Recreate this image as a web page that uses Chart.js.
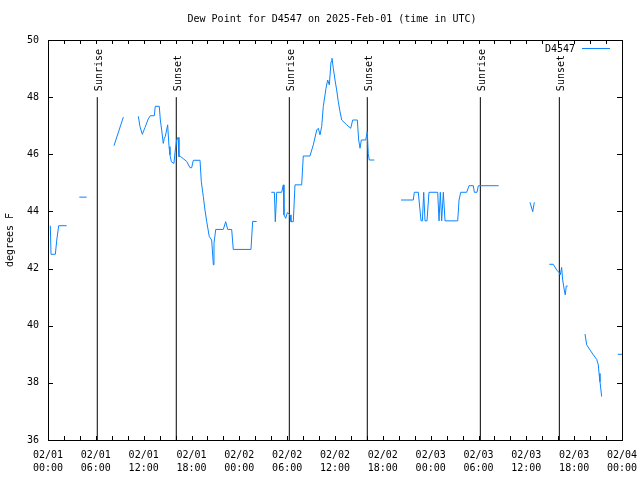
<!DOCTYPE html>
<html>
<head>
<meta charset="utf-8">
<script src="https://cdn.jsdelivr.net/npm/chart.js@4"></script>
<style>
  body { margin: 0; background: #fff; }
</style>
</head>
<body>
<canvas id="chartDewPoint" width="640" height="480"></canvas>
<script>
// hours since 2025-02-01 00:00 UTC, null value = gap in the record
const hours = [
  0.29, 0.38, 0.92, 1.10, 1.34, 2.34, 3.0,
  3.93, 4.85, 6.5,
  8.28, 9.45, 10.4,
  11.33, 11.54, 11.83, 12.17, 12.58, 12.83, 13.33, 13.46, 13.96, 14.09, 14.26, 14.46,
  14.59, 14.72, 15.01, 15.18, 15.30, 15.47, 15.80, 15.93, 16.14, 16.31, 16.43, 16.64,
  17.40, 17.81, 18.02, 18.23, 19.07, 19.23, 19.48, 19.69, 19.91, 20.23, 20.53, 20.74,
  20.82, 21.04, 21.99, 22.29, 22.54, 23.04, 23.24, 25.46, 25.67, 26.18, 27.0,
  28.01, 28.40, 28.51, 28.69, 29.31, 29.52, 29.60, 29.82, 30.02, 30.36, 30.48, 30.77,
  30.98, 31.82, 32.02, 32.86, 33.28, 33.71, 33.91, 34.12, 34.33, 34.53, 34.87, 35.08,
  35.29, 35.50, 35.62, 35.79, 36.00, 36.21, 36.41, 36.63, 36.84, 37.47, 37.97, 38.22,
  38.80, 38.97, 39.14, 39.30, 39.85, 40.05, 40.17, 40.30, 40.93, 42.5,
  44.28, 45.82, 45.95, 46.45, 46.79, 46.96, 47.13, 47.29, 47.54, 47.79, 48.88, 49.05,
  49.21, 49.38, 49.59, 49.80, 51.39, 51.56, 51.77, 52.52, 52.81, 53.35, 53.48, 53.81,
  53.98, 56.53, 58.0,
  60.46, 60.80, 61.00, 62.0,
  62.88, 63.38, 63.81, 64.10, 64.26, 64.43, 64.56, 64.76, 64.88, 65.01, 65.19, 66.0,
  67.36, 67.57, 67.99, 68.40, 68.83, 69.03, 69.12, 69.24, 69.45, 70.5,
  71.46, 72.0
];
const dewPoint = [
  43.5, 42.5, 42.5, 43.0, 43.5, 43.5, null,
  44.5, 44.5, null,
  46.3, 47.3, null,
  47.33, 46.97, 46.70, 46.94, 47.24, 47.35, 47.35, 47.68, 47.68, 47.20, 46.85, 46.38,
  46.56, 46.63, 47.03, 46.27, 45.98, 45.74, 45.68, 46.07, 46.50, 46.59, 45.92, 45.92,
  45.75, 45.53, 45.53, 45.79, 45.79, 45.04, 44.52, 44.05, 43.64, 43.12, 43.00, 42.13,
  42.88, 43.37, 43.37, 43.64, 43.37, 43.37, 42.67, 42.67, 43.65, 43.65, null,
  44.67, 44.67, 43.64, 44.67, 44.67, 44.93, 43.88, 43.76, 43.96, 43.88, 43.64, 43.64,
  44.93, 44.93, 45.94, 45.94, 46.33, 46.85, 46.91, 46.68, 46.97, 47.67, 48.31, 48.60,
  48.43, 49.24, 49.36, 49.01, 48.60, 48.25, 47.84, 47.49, 47.20, 47.03, 46.91, 47.20,
  47.20, 46.50, 46.21, 46.50, 46.50, 46.79, 46.03, 45.80, 45.80, null,
  44.40, 44.40, 44.67, 44.67, 43.67, 43.67, 44.67, 43.67, 43.67, 44.67, 44.67, 43.67,
  44.67, 43.67, 44.67, 43.67, 43.67, 44.40, 44.67, 44.67, 44.90, 44.90, 44.67, 44.67,
  44.90, 44.90, null,
  44.32, 43.99, 44.32, null,
  42.15, 42.15, 41.95, 41.86, 41.78, 42.04, 41.60, 41.25, 41.08, 41.39, 41.39, null,
  39.71, 39.33, 39.15, 38.98, 38.82, 38.63, 38.33, 38.04, 37.52, null,
  39.0, 39.0
];

const sunrise = [6.18, 30.27, 54.23];
const sunset = [16.09, 40.05, 64.14];
const sunLineTop = 48;

const dayLabels = ["02/01", "02/02", "02/03", "02/04"];
const timeLabels = ["00:00", "06:00", "12:00", "18:00"];

const title = "Dew Point for D4547 on 2025-Feb-01 (time in UTC)";
const mono = "'DejaVu Sans Mono', 'Liberation Mono', monospace";
const lineColor = "#0a84ff";

// sunrise/sunset markers as one dataset with gaps
const sunPoints = [];
[...sunrise, ...sunset].sort((a, b) => a - b).forEach((h) => {
  sunPoints.push({ x: h, y: 36 }, { x: h, y: sunLineTop }, { x: h, y: null });
});

const gnuplotFrame = {
  id: "gnuplotFrame",
  afterDraw(chart) {
    const { ctx, chartArea: a, scales } = chart;
    const xs = scales.x;
    const ys = scales.y;
    ctx.save();
    ctx.strokeStyle = "#000";
    ctx.lineWidth = 1;
    ctx.strokeRect(a.left + 0.5, a.top + 0.5, a.right - a.left, a.bottom - a.top);

    // inward ticks on all four sides
    ctx.beginPath();
    for (let h = 0; h <= 72; h += 2) {
      const x = Math.round(xs.getPixelForValue(h)) + 0.5;
      ctx.moveTo(x, a.bottom);
      ctx.lineTo(x, a.bottom - 4);
      ctx.moveTo(x, a.top);
      ctx.lineTo(x, a.top + 4);
    }
    for (let v = 36; v <= 50; v += 2) {
      const y = Math.round(ys.getPixelForValue(v)) + 0.5;
      ctx.moveTo(a.left, y);
      ctx.lineTo(a.left + 5, y);
      ctx.moveTo(a.right, y);
      ctx.lineTo(a.right - 5, y);
    }
    ctx.stroke();

    ctx.fillStyle = "#000";
    ctx.font = "10px " + mono;

    // title, centred over the plot
    ctx.textAlign = "center";
    ctx.textBaseline = "middle";
    ctx.fillText(title, (a.left + a.right) / 2 - 3, 19);

    // sunrise / sunset labels
    ctx.textAlign = "left";
    ctx.textBaseline = "alphabetic";
    const yTop = ys.getPixelForValue(sunLineTop) - 6;
    const label = (h, text) => {
      ctx.save();
      ctx.translate(xs.getPixelForValue(h) + 5, yTop);
      ctx.rotate(-Math.PI / 2);
      ctx.fillText(text, 0, 0);
      ctx.restore();
    };
    sunrise.forEach((h) => label(h, "Sunrise"));
    sunset.forEach((h) => label(h, "Sunset"));

    // key, gnuplot style: text then line sample
    ctx.textAlign = "right";
    ctx.textBaseline = "middle";
    ctx.fillText("D4547", a.right - 47, a.top + 9);
    ctx.strokeStyle = lineColor;
    ctx.beginPath();
    ctx.moveTo(a.right - 40, a.top + 8.5);
    ctx.lineTo(a.right - 12, a.top + 8.5);
    ctx.stroke();
    ctx.restore();
  },
};

new Chart(document.getElementById("chartDewPoint"), {
  type: "line",
  data: {
    datasets: [
      {
        label: "D4547",
        data: hours.map((h, i) => ({ x: h, y: dewPoint[i] })),
        borderColor: lineColor,
        borderWidth: 1,
        pointRadius: 0,
        spanGaps: false,
        tension: 0,
      },
      {
        label: "sun",
        data: sunPoints,
        borderColor: "#000",
        borderWidth: 1,
        pointRadius: 0,
        spanGaps: false,
      },
    ],
  },
  options: {
    responsive: false,
    animation: false,
    events: [],
    layout: { padding: { left: 0, right: 18, top: 40, bottom: 0 } },
    plugins: {
      legend: { display: false },
      tooltip: { enabled: false },
      title: { display: false },
    },
    scales: {
      x: {
        type: "linear",
        min: 0,
        max: 72,
        afterFit(scale) {
          scale.height = 40;
          scale.paddingLeft = 0;
          scale.paddingRight = 0;
        },
        grid: { display: false, drawTicks: false },
        border: { display: false },
        ticks: {
          stepSize: 6,
          autoSkip: false,
          maxRotation: 0,
          padding: 9,
          color: "#000",
          font: { family: mono, size: 10, lineHeight: 1.3 },
          callback: (v) => [dayLabels[Math.floor(v / 24)], timeLabels[(v % 24) / 6]],
        },
      },
      y: {
        min: 36,
        max: 50,
        afterFit(scale) {
          scale.width = 48;
          scale.paddingTop = 0;
          scale.paddingBottom = 0;
        },
        grid: { display: false, drawTicks: false },
        border: { display: false },
        title: {
          display: true,
          text: "degrees F",
          color: "#000",
          font: { family: mono, size: 10 },
          padding: { top: 4, bottom: 4 },
        },
        ticks: {
          stepSize: 2,
          padding: 9,
          color: "#000",
          font: { family: mono, size: 10 },
        },
      },
    },
  },
  plugins: [gnuplotFrame],
});
</script>
</body>
</html>
